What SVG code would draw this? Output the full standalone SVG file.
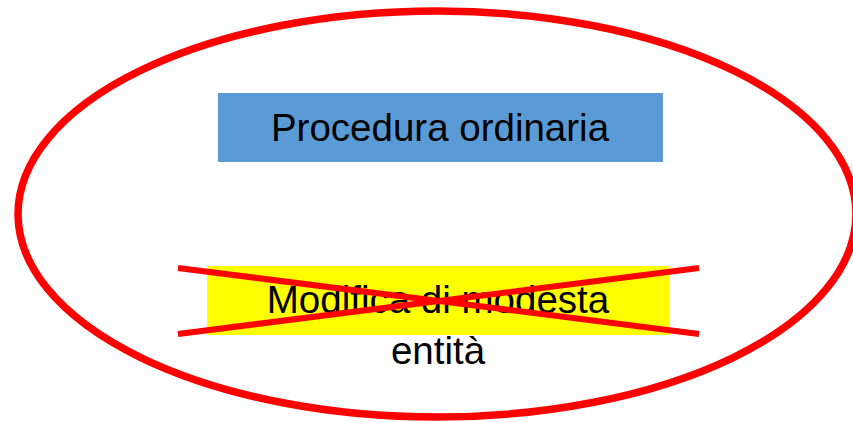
<svg xmlns="http://www.w3.org/2000/svg" width="853" height="422" viewBox="0 0 853 422">
<style>
  .lbl { font-family: "Liberation Sans", Arial, sans-serif; font-size: 38.5px; fill: #000; text-anchor: middle; }
  .red { stroke: #FF0000; fill: none; }
</style>
<rect width="853" height="422" fill="#FFFFFF"/>
<g id="ellipse">
  <ellipse class="red" cx="437" cy="214" rx="419" ry="203" stroke-width="7.5"/>
</g>
<g id="procedura-ordinaria">
  <rect x="218" y="93" width="445" height="69" fill="#5B9BD5"/>
  <text class="lbl" x="440" y="141">Procedura ordinaria</text>
</g>
<g id="modifica">
  <rect x="207" y="266" width="462" height="69" fill="#FFFF00"/>
  <text class="lbl" x="438" y="313">Modifica di modesta</text>
  <text class="lbl" x="438" y="364">entità</text>
</g>
<g id="connectors">
  <line class="red" x1="178" y1="268" x2="699" y2="334" stroke-width="6"/>
  <line class="red" x1="178" y1="334" x2="699" y2="268" stroke-width="6"/>
</g>
</svg>
